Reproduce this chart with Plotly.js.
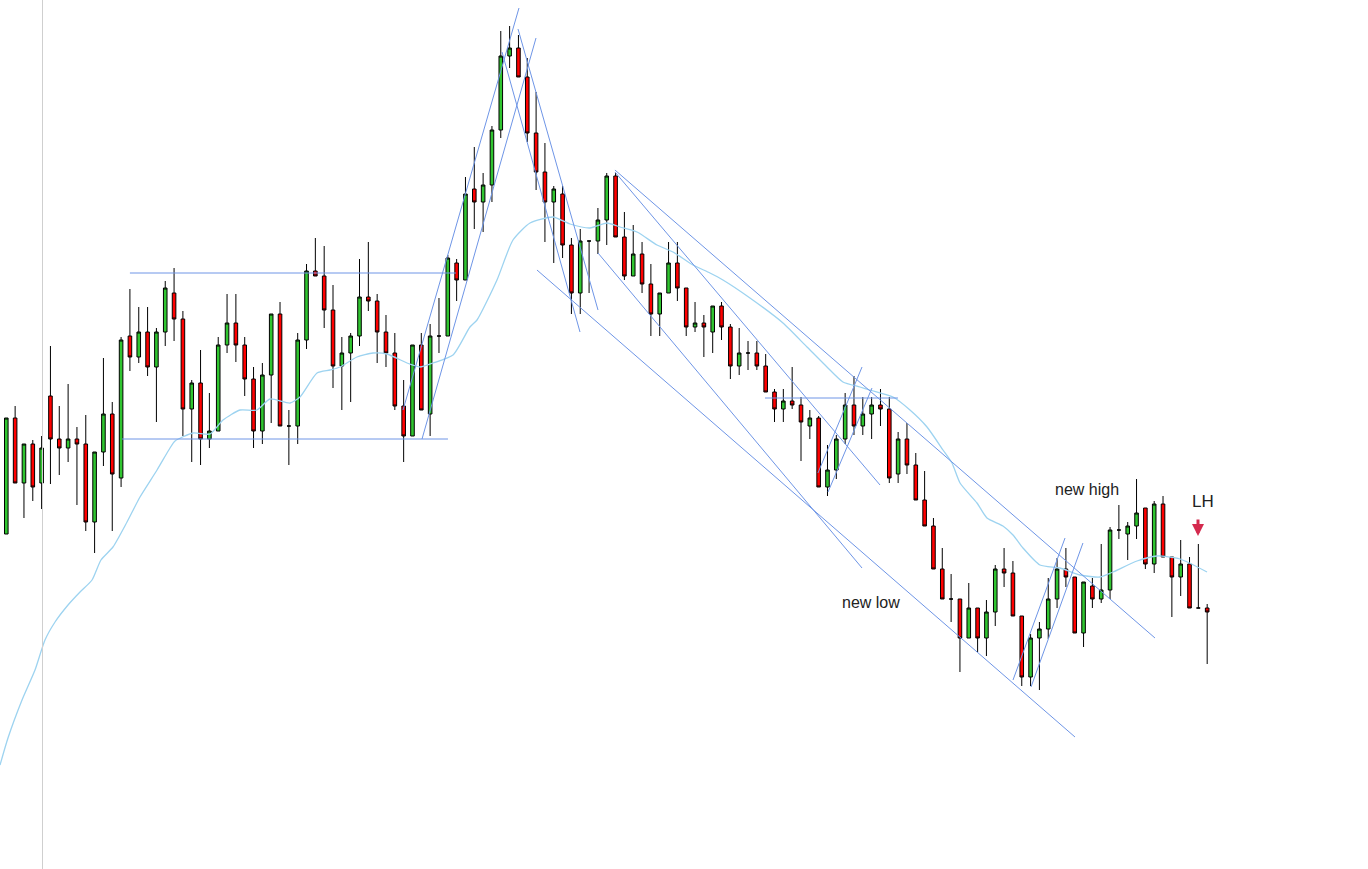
<!DOCTYPE html>
<html>
<head>
<meta charset="utf-8">
<script src="https://cdn.plot.ly/plotly-3.0.1.min.js"></script>
<style>
html,body{margin:0;padding:0;background:#fff;}
#chart{width:1368px;height:869px;}
</style>
</head>
<body>
<div id="chart"></div>
<script>
// Candle values (bar index 0..136)
var openP = [335,451,386,425,386,473,430,421,430,425, 347,417,455,391,533,512,537,502,537,576,
  550,460,486,430,438,524,546,524,490,438, 494,555,443,443,529,598,593,559,503,516,
  533,572,568,537,516,463,433,524,455,533, 533,606,589,680,667,684,739,813,821,792,
  736,697,667,675,624,576,628,628,649,693, 632,593,615,585,555,576,606,581,542,546,
  537,563,542,503,516,516,503,477,460,468, 464,443,451,382,399,430,464,443,455,464,
  460,395,430,404,369,343,300,270,270,231, 261,231,257,300,296,253,192,231,240,270,
  300,292,236,283,270,279,339,335,343,361, 305,365,312,292,305,261,261];
var highP = [451,463,425,429,433,523,463,485,442,454, 417,511,467,532,580,562,562,541,588,601,
  558,489,519,476,532,575,575,532,502,506, 555,567,459,536,605,631,623,584,532,536,
  610,627,575,554,536,489,524,536,545,571, 614,610,692,722,696,743,838,843,834,811,
  777,726,683,683,631,640,628,661,696,696, 657,644,627,605,576,627,627,581,567,554,
  563,567,545,541,528,528,515,480,480,502, 472,459,453,424,434,476,493,472,472,480,
  472,437,446,416,398,351,321,295,270,286, 261,269,304,321,308,253,235,247,291,311,
  321,292,287,291,325,342,364,347,390,361, 368,373,312,329,312,325,265];
var lowP = [335,386,351,368,360,385,394,407,364,338, 316,403,338,382,498,506,493,447,523,528,
  433,407,404,421,438,516,507,473,421,425, 446,443,404,425,520,593,541,481,459,467,
  523,558,506,502,459,407,433,459,433,516, 533,568,589,640,637,667,731,801,792,727,
  679,627,606,611,555,555,576,615,624,632, 589,593,576,533,533,576,568,533,537,512,
  516,529,490,494,499,499,477,447,447,460, 408,430,382,373,390,425,434,434,430,443,
  386,386,395,369,343,300,270,247,197,231, 217,213,243,282,253,183,183,179,230,261,
  282,236,222,261,266,270,330,309,330,300, 296,312,252,273,261,261,205];
var closeP = [451,386,425,382,421,430,421,430,425,347, 417,455,395,529,512,537,502,537,581,550,
  460,486,430,438,524,546,524,490,438,494, 555,443,443,529,598,593,559,503,516,533,
  572,568,537,516,463,433,524,459,533,533, 611,589,675,667,684,739,813,821,792,736,
  697,667,680,624,576,628,628,649,693,632, 593,615,585,555,576,606,581,542,546,542,
  563,542,503,516,516,503,477,460,468,464, 447,451,382,399,430,464,443,455,464,460,
  391,430,404,369,343,300,270,270,231,261, 231,257,300,296,253,192,231,240,270,300,
  292,236,287,270,279,339,339,343,356,305, 365,312,292,305,261,261,257];

// Moving average (bar position, value)
var maIdx = [-0.71,0.19,1.78,3.25,4.38,5.52,6.99,8.35,9.71,10.72,12.08,13.67,15.14,17.07,18.54,19.11,
  21.14,23.07,24.54,26.47,28.39,29.86,32.13,33.26,35.19,36.66,37.79,39.71,41.53,43.11,45.38,46.85,
  48.32,50.59,52.51,53.31,55.57,57.38,59.31,61.91,63.84,66.10,68.03,69.50,71.43,73.69,75.50,77.77,
  79.69,81.16,84.22,87.96,90.68,92.94,94.75,96.68,97.81,100.42,102.34,104.27,106.08,107.10,108.01,
  109.93,111.06,112.87,114.01,115.14,117.06,119.33,121.59,123.86,125.33,128.05,130.31,132.92,135.98];
var maVal = [104,131,169,199,229,247,264,277,289,309,322,347,372,399,421,428,
  436,435,449,459,459,470,466,472,496,499,502,512,516,515,506,502,
  506,514,542,549,589,629,646,652,645,641,646,642,637,624,617,604,
  596,589,571,546,522,502,487,482,479,472,459,442,419,406,386,
  366,351,343,334,321,304,301,294,292,297,308,313,310,297];

// Trend lines drawn on the chart: [x0, y0, x1, y1] in bar / price units
var trendLines = [
  [14.0,596,50.93,596],
  [13.1,430,50.02,430],
  [44.93,459,58.06,861],
  [47.08,430,59.99,831],
  [57.95,840,67.01,559],
  [56.14,817,64.97,537],
  [68.93,699,130.09,231],
  [68.93,697,98.95,384],
  [67.01,616,96.91,301],
  [60.10,599,121.03,132],
  [91.92,396,96.91,502],
  [93.06,377,98.04,481],
  [85.92,471,100.98,471],
  [114.01,189,119.90,331],
  [116.05,182,121.93,326]
];
var sessionMarkX = 4.1;

var labels = [
  {text:'new low', x:97.93, y:267},
  {text:'new high', x:122.39, y:380},
  {text:'LH', x:135.52, y:368}
];
var lhArrow = {x:134.96, y:333};

var idx = openP.map(function(_, i){ return i; });

var traces = [];
traces.push({
  type:'scatter', mode:'lines', x:maIdx, y:maVal,
  line:{color:'#9dd3f0', width:1.3, shape:'spline', smoothing:0.6},
  hoverinfo:'skip'
});
trendLines.forEach(function(l){
  traces.push({type:'scatter', mode:'lines', x:[l[0],l[2]], y:[l[1],l[3]],
    line:{color:'#6e95e6', width:1}, hoverinfo:'skip'});
});
traces.push({
  type:'candlestick', x:idx, open:openP, high:highP, low:lowP, close:closeP,
  increasing:{fillcolor:'#30c530', line:{color:'#000', width:1}},
  decreasing:{fillcolor:'#ff0000', line:{color:'#000', width:1}},
  whiskerwidth:0
});

var pxW = 8.83, x0px = 6.3;
var layout = {
  width:1368, height:869,
  margin:{l:0, r:0, t:0, b:0},
  paper_bgcolor:'#fff', plot_bgcolor:'#fff',
  showlegend:false,
  boxgap:0.42,
  xaxis:{visible:false, range:[-x0px/pxW, (1368-x0px)/pxW], rangeslider:{visible:false}, fixedrange:true},
  yaxis:{visible:false, range:[0, 869], fixedrange:true},
  shapes:[{type:'line', xref:'x', yref:'paper', x0:sessionMarkX, x1:sessionMarkX, y0:0, y1:1,
    line:{color:'#cfcfcf', width:1}}],
  annotations: labels.map(function(a){
    return {text:a.text, x:a.x, y:a.y, xref:'x', yref:'y', showarrow:false,
      font:{family:'Liberation Sans, Arial, sans-serif', size:a.text==='LH'?17:16, color:'#222'}};
  }).concat([{x:lhArrow.x, y:lhArrow.y, xref:'x', yref:'y', ax:0, ay:-18, text:'',
    showarrow:true, arrowhead:2, arrowsize:0.8, arrowwidth:3, arrowcolor:'#d42a4e'}])
};

Plotly.newPlot('chart', traces, layout, {staticPlot:true, displayModeBar:false});
</script>
</body>
</html>
